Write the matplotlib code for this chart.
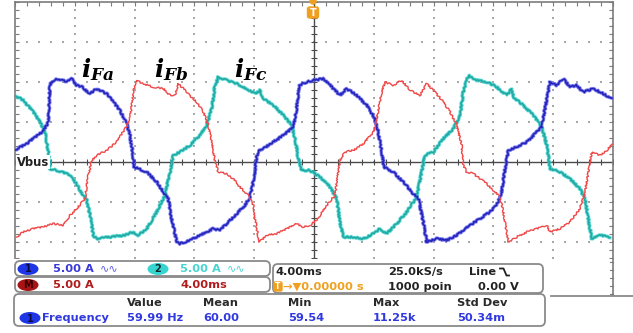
"""
Scope capture: three filter currents iFa / iFb / iFc (5 A/div, 4 ms/div)
with the Tek-style status panels underneath.
"""
import numpy as np
import matplotlib
matplotlib.use("Agg")
import matplotlib.pyplot as plt
from matplotlib.patches import FancyBboxPatch, Ellipse, Circle

# ---- trace data: time (ms), current (A) ----
t_a = [-20.0, -19.22, -18.11, -17.77, -17.66, -17.55, -17.10, -16.54, -16.21, -15.87,
       -15.54, -14.98, -14.54, -13.87, -13.42, -12.98, -12.53, -12.31, -12.13, -12.04,
       -11.64, -11.19, -10.52, -10.08, -9.75, -9.52, -9.18, -8.96, -8.29, -7.63,
       -6.74, -6.29, -5.84, -5.17, -4.62, -4.28, -4.06, -3.83, -3.73, -3.39,
       -2.72, -2.05, -1.38, -1.16, -0.98, -0.49, -0.05, 0.62, 1.07, 1.74,
       2.19, 2.86, 3.53, 4.08, 4.30, 4.53, 4.68, 5.30, 5.97, 6.64,
       6.98, 7.31, 7.54, 8.21, 8.88, 9.55, 10.10, 10.43, 11.10, 11.77,
       12.22, 12.56, 12.78, 13.00, 13.56, 14.23, 14.90, 15.23, 15.45, 15.79,
       16.23, 16.68, 17.12, 17.57, 18.01, 18.68, 19.35, 19.91]
i_a = [1.5, 2.29, 3.84, 5.0, 9.59, 10.09, 10.41, 10.0, 10.41, 9.59,
       9.41, 8.54, 9.16, 8.54, 7.5, 6.46, 4.79, 3.34, 1.25, -0.63,
       -0.91, -1.25, -2.5, -3.75, -4.59, -7.09, -10.0, -10.21, -9.79, -9.16,
       -8.34, -8.54, -7.71, -6.46, -5.41, -4.38, -2.5, 0.63, 1.46, 1.66,
       2.5, 3.34, 4.38, 6.66, 9.59, 10.0, 10.21, 10.41, 9.59, 8.34,
       9.16, 8.34, 7.09, 5.41, 3.75, 1.25, -0.63, -1.25, -2.5, -3.96,
       -4.59, -7.5, -10.0, -9.59, -9.79, -9.16, -8.34, -7.91, -7.09, -6.25,
       -5.41, -3.75, -0.84, 1.46, 1.88, 2.5, 3.75, 4.38, 6.66, 10.0,
       9.59, 10.41, 9.38, 9.59, 8.75, 9.16, 8.54, 7.91]

t_b = [-19.89, -19.45, -18.78, -18.11, -17.44, -16.77, -16.32, -15.87, -15.32, -15.10,
       -14.87, -14.54, -13.87, -13.20, -12.64, -12.31, -12.09, -11.91, -11.42, -10.75,
       -10.08, -9.63, -9.30, -9.08, -8.52, -7.85, -7.40, -7.07, -6.84, -6.62,
       -6.40, -5.84, -5.40, -4.95, -4.50, -4.28, -4.06, -3.83, -3.66, -3.16,
       -2.50, -1.83, -1.16, -0.72, -0.27, 0.18, 0.85, 1.40, 1.74, 2.07,
       2.63, 3.30, 3.97, 4.19, 4.53, 4.75, 5.30, 5.87, 6.42, 7.09,
       7.54, 8.09, 8.65, 9.10, 9.55, 9.88, 9.99, 10.21, 10.66, 11.10,
       11.55, 11.99, 12.44, 12.66, 13.00, 13.56, 14.23, 14.90, 15.57, 15.79,
       16.45, 17.12, 17.79, 18.13, 18.35, 18.58, 19.13, 19.58, 20.0]
i_b = [-9.38, -8.75, -8.34, -8.13, -7.71, -7.91, -6.66, -5.84, -4.59, -1.66,
       0.21, 0.84, 1.46, 2.5, 4.16, 5.41, 8.75, 10.21, 9.79, 9.38,
       9.16, 8.34, 8.34, 9.79, 8.75, 7.5, 6.25, 4.59, 2.5, 0.0,
       -1.25, -1.46, -2.09, -3.13, -3.96, -4.59, -5.41, -8.34, -10.0, -9.16,
       -8.96, -8.34, -7.71, -8.13, -7.91, -7.29, -5.41, -4.16, 0.21, 1.25,
       1.46, 2.29, 3.75, 5.41, 8.75, 10.0, 9.59, 10.21, 8.96, 8.34,
       9.79, 8.75, 7.5, 6.25, 4.59, 2.09, -0.41, -1.25, -1.46, -2.09,
       -2.71, -3.54, -4.38, -6.25, -10.0, -9.38, -8.75, -8.34, -7.91, -8.75,
       -8.34, -7.5, -5.84, -3.75, -1.25, 1.25, 0.84, 1.46, 2.29]

t_c = [-20.0, -19.45, -18.78, -18.33, -17.99, -17.77, -17.66, -17.21, -16.54, -16.10,
       -15.65, -15.20, -14.98, -14.76, -14.54, -13.65, -12.76, -12.09, -11.75, -11.19,
       -10.52, -9.97, -9.63, -9.41, -8.96, -8.29, -7.63, -7.18, -6.84, -6.62,
       -6.40, -5.84, -5.17, -4.50, -3.95, -3.61, -3.39, -2.72, -2.05, -1.49,
       -1.27, -1.05, -0.82, -0.27, 0.40, 1.07, 1.52, 1.74, 1.96, 2.63,
       3.30, 3.97, 4.41, 4.86, 5.53, 6.20, 6.87, 7.20, 7.42, 7.98,
       8.65, 9.32, 9.77, 9.99, 10.32, 10.88, 11.55, 12.22, 12.89, 13.22,
       13.33, 14.00, 14.67, 15.23, 15.57, 15.79, 16.45, 17.12, 17.79, 18.13,
       18.35, 18.58, 19.13, 19.80]
i_c = [8.34, 7.71, 6.25, 5.0, 3.75, 1.25, -0.84, -1.04, -1.46, -2.09,
       -3.54, -4.79, -6.66, -9.16, -9.59, -9.38, -9.16, -8.75, -9.16, -8.34,
       -6.25, -4.16, -1.25, 0.84, 1.25, 2.09, 3.34, 4.59, 6.66, 9.59,
       10.63, 10.21, 9.79, 9.16, 8.54, 8.96, 7.91, 7.09, 5.84, 4.59,
       2.91, 0.41, -1.04, -1.04, -1.88, -3.13, -4.59, -7.5, -9.38, -9.38,
       -9.59, -8.96, -8.34, -8.96, -7.71, -6.25, -4.38, -1.25, 0.84, 1.25,
       2.91, 4.16, 5.84, 8.75, 10.84, 10.21, 10.0, 9.38, 8.34, 9.16,
       8.13, 7.09, 5.84, 4.38, 2.09, -0.84, -1.25, -2.09, -3.34, -4.59,
       -7.09, -9.59, -9.16, -9.38]

trace_labels = [r"$i_{Fa}$", r"$i_{Fb}$", r"$i_{Fc}$"]

# measurement readout
meas_headers = ["Value", "Mean", "Min", "Max", "Std Dev"]
meas_values = ["59.99 Hz", "60.00", "59.54", "11.25k", "50.34m"]

BLUE, BLUE_LT = "#2424b8", "#6a6af5"
RED = "#f04848"
CYAN, CYAN_DK = "#3fd6cf", "#23a8a4"
GRID = "#a8a8a8"
FRAME = "#7c7c7c"

plt.rcParams["mathtext.fontset"] = "custom"
plt.rcParams["mathtext.it"] = "DejaVu Serif:italic:bold"
plt.rcParams["mathtext.rm"] = "DejaVu Serif:bold"

W, H = 633, 333
fig = plt.figure(figsize=(W / 100, H / 100), dpi=100)
fig.patch.set_facecolor("white")

# graticule occupies px x 15..613, y 2..322
ax = fig.add_axes([15 / W, 1 - 322 / H, 598 / W, 320 / H])
ax.set_xlim(-20, 20)
ax.set_ylim(-20, 20)

# dotted graticule
xmaj = np.arange(-16, 17, 4)
ymaj = np.arange(-15, 16, 5)
xmin = np.arange(-20, 20.01, 0.8)
ymin = np.arange(-20, 20.01, 1.0)
for x in xmaj:
    if x != 0:
        ax.scatter(np.full(ymin.size, x), ymin, s=1.2, marker="s", color=GRID, lw=0, zorder=1)
for y in ymaj:
    if y != 0:
        ax.scatter(xmin, np.full(xmin.size, y), s=1.2, marker="s", color=GRID, lw=0, zorder=1)

# center cross with minor ticks
ax.axhline(0, color="#4a4a4a", lw=1.0, zorder=2)
ax.axvline(0, color="#4a4a4a", lw=1.0, zorder=2)
ax.plot(xmin, np.zeros_like(xmin), ls="none", marker="|", ms=4, mew=0.8, color="#4a4a4a", zorder=2)
ax.plot(np.zeros_like(ymin), ymin, ls="none", marker="_", ms=4, mew=0.8, color="#4a4a4a", zorder=2)

for s in ax.spines.values():
    s.set_color(FRAME)
    s.set_linewidth(1.2)
ax.set_xticks(xmaj)
ax.set_yticks(ymaj)
ax.set_xticks(xmin, minor=True)
ax.set_yticks(ymin, minor=True)
ax.tick_params(which="both", direction="in", top=True, right=True, color=FRAME,
               labelleft=False, labelbottom=False, length=3, width=0.8)

# traces (light under-stroke gives the doubled look of the capture)
for t, i, c_lo, c_hi, lw in [(t_c, i_c, CYAN, CYAN_DK, 1.2),
                             (t_a, i_a, BLUE_LT, BLUE, 1.2),
                             (t_b, i_b, None, RED, 1.0)]:
    if c_lo is not None:
        ln, = ax.plot(t, i, color=c_lo, lw=2.4, alpha=0.8, zorder=3)
        ln.set_sketch_params(scale=0.8, length=3, randomness=4)
    ln, = ax.plot(t, i, color=c_hi, lw=lw, zorder=4)
    ln.set_sketch_params(scale=0.8, length=3, randomness=4)

# ---- overlay in screen pixels for labels and status panels ----
ov = fig.add_axes([0, 0, 1, 1], facecolor="none")
ov.set_xlim(0, W)
ov.set_ylim(H, 0)
ov.axis("off")

for lab, x in zip(trace_labels, [81, 154, 234]):
    ov.text(x, 77, lab, fontsize=17.5, color="black", ha="left", va="baseline")

ov.text(17, 162, "Vbus", fontsize=8.3, weight="bold", color="#222222", va="center", ha="left",
        bbox=dict(facecolor="white", edgecolor="none", pad=0.6))

# trigger marker
ov.add_patch(Circle((313, 1), 3, color="#f0a020", zorder=5))
ov.add_patch(FancyBboxPatch((307.5, 7), 11, 11, boxstyle="round,pad=0,rounding_size=2",
                            color="#f0a020", zorder=5))
ov.text(313, 12.8, "T", color="white", fontsize=7, weight="bold", ha="center", va="center", zorder=6)


def box(x0, y0, x1, y1, r=5):
    ov.add_patch(FancyBboxPatch((x0, y0), x1 - x0, y1 - y0,
                                boxstyle=f"round,pad=0,rounding_size={r}",
                                facecolor="white", edgecolor="#8a8a8a", lw=1.3, zorder=7))


def badge(x, y, txt, face, fg):
    ov.add_patch(Ellipse((x, y), 21, 12, facecolor=face, edgecolor="none", zorder=8))
    ov.text(x, y + 0.5, txt, fontsize=7, weight="bold", color=fg, ha="center", va="center", zorder=9)


# white mask under panels
ov.add_patch(plt.Rectangle((0, 259), W, H - 259, facecolor="white", edgecolor="none", zorder=6))

box(15, 261, 270, 276)
box(15, 277, 270, 292)
box(273, 264, 543, 293)
box(14, 294, 545, 326)
# graticule continues to the right of the panels
ov.plot([613, 613], [259, 295], color=FRAME, lw=1.2, zorder=7)
ov.plot([551, 633], [296, 296], color="#8a8a8a", lw=1.3, zorder=7)
for yy in np.arange(262, 295, 8):
    ov.plot([610, 613], [yy, yy], color=FRAME, lw=0.8, zorder=7)

fs = 8.2
badge(28, 269, "1", "#1e36e6", "#0a0a40")
ov.text(53, 269, "5.00 A", color="#3a3ad8", fontsize=fs, weight="bold", va="center", zorder=9)
ov.text(100, 268.5, "∿∿", color="#5a5ae8", fontsize=8, va="center", zorder=9)
badge(158, 269, "2", "#38d4d2", "#0a2a2a")
ov.text(180, 269, "5.00 A", color="#48d4d0", fontsize=fs, weight="bold", va="center", zorder=9)
ov.text(227, 268.5, "∿∿", color="#48d4d0", fontsize=8, va="center", zorder=9)

badge(28, 285, "M", "#a81414", "#3a0000")
ov.text(53, 285, "5.00 A", color="#b01c1c", fontsize=fs, weight="bold", va="center", zorder=9)
ov.text(180, 285, "4.00ms", color="#b01c1c", fontsize=fs, weight="bold", va="center", zorder=9)

ov.text(275, 272, "4.00ms", color="#222222", fontsize=fs, weight="bold", va="center", zorder=9)
ov.text(388, 272, "25.0kS/s", color="#222222", fontsize=fs, weight="bold", va="center", zorder=9)
ov.text(469, 272, "Line", color="#222222", fontsize=fs, weight="bold", va="center", zorder=9)
ov.plot([500, 503.5, 506.5, 509], [268.5, 268.5, 275.5, 275.5], color="#222222", lw=1.3, zorder=9)
ov.add_patch(FancyBboxPatch((274, 282), 8, 9, boxstyle="round,pad=0,rounding_size=1.5",
                            color="#f0a020", zorder=8))
ov.text(278, 286.8, "T", color="white", fontsize=5.5, weight="bold", ha="center", va="center", zorder=9)
ov.text(283, 287, "→▼0.00000 s", color="#f0a020", fontsize=fs, weight="bold", va="center", zorder=9)
ov.text(388, 287, "1000 poin", color="#222222", fontsize=fs, weight="bold", va="center", zorder=9)
ov.text(478, 287, "0.00 V", color="#222222", fontsize=fs, weight="bold", va="center", zorder=9)

col_x = [127, 203, 288, 373, 457]
for x, hdr, val in zip(col_x, meas_headers, meas_values):
    ov.text(x, 303, hdr, color="#2a2a2a", fontsize=fs, weight="bold", va="center", zorder=9)
    ov.text(x, 318, val, color="#3038e0", fontsize=fs, weight="bold", va="center", zorder=9)
badge(30, 318, "1", "#1e36e6", "#0a0a40")
ov.text(42, 318, "Frequency", color="#3038e0", fontsize=fs, weight="bold", va="center", zorder=9)

fig.savefig("out.png", dpi=100, facecolor="white")
